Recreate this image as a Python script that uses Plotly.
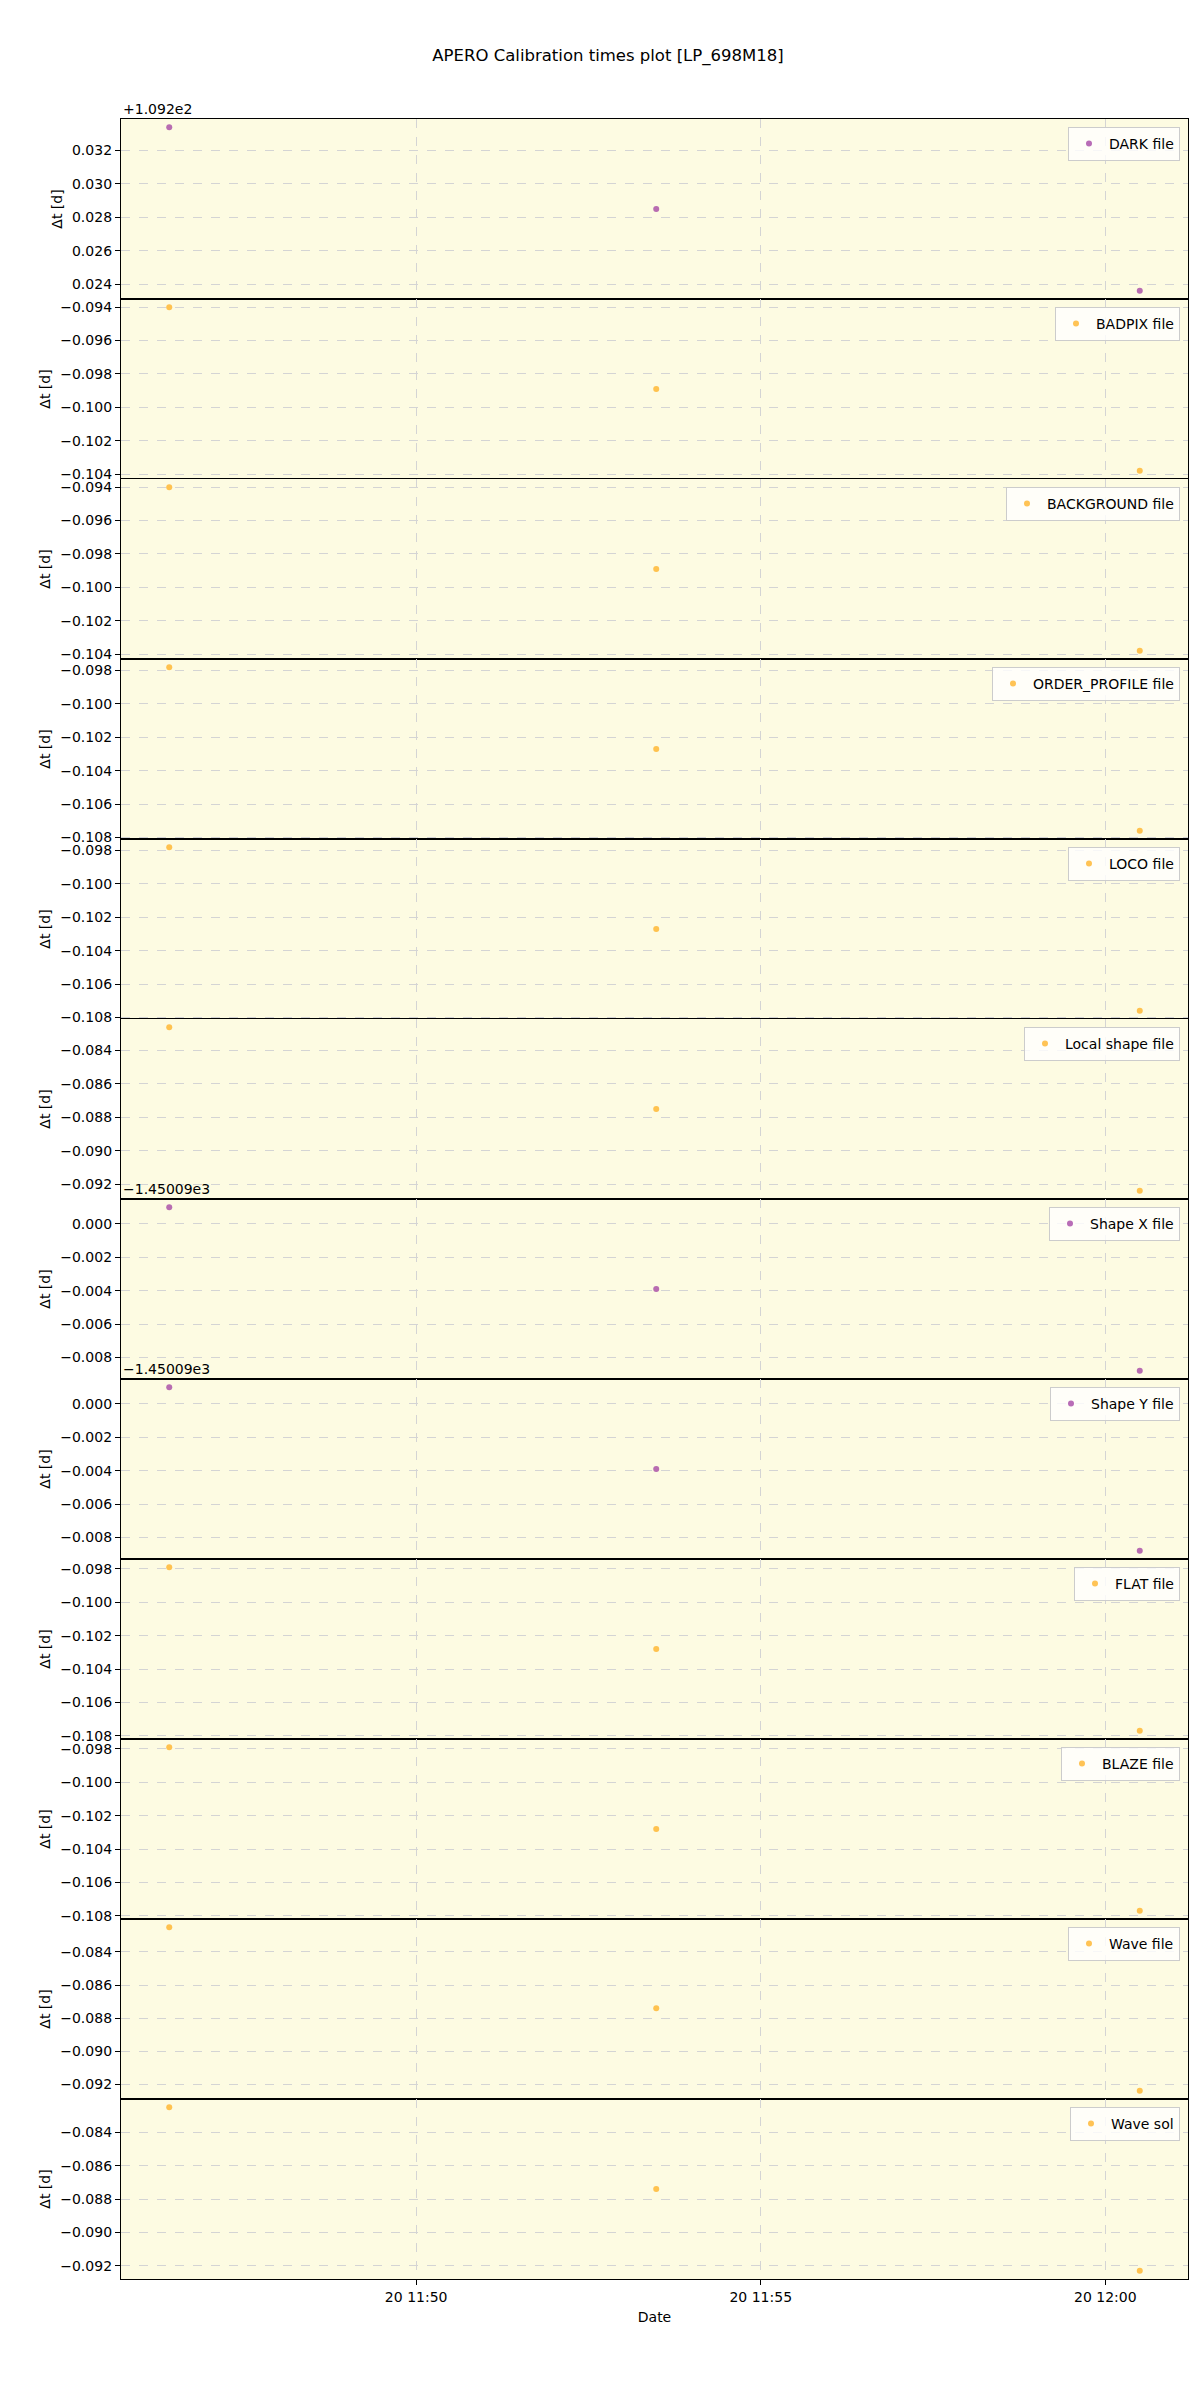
import plotly.graph_objects as go
from plotly.subplots import make_subplots

# ---- data ----
times = ["2023-04-20 11:46:25", "2023-04-20 11:53:29", "2023-04-20 12:00:30"]
x_range = ["2023-04-20 11:45:43", "2023-04-20 12:01:12"]
x_tickvals = ["2023-04-20 11:50:00", "2023-04-20 11:55:00", "2023-04-20 12:00:00"]
x_ticktext = ["20 11:50", "20 11:55", "20 12:00"]

labels = ["DARK file", "BADPIX file", "BACKGROUND file", "ORDER_PROFILE file",
          "LOCO file", "Local shape file", "Shape X file", "Shape Y file",
          "FLAT file", "BLAZE file", "Wave file", "Wave sol"]
# values shown relative to the axis offset text (matplotlib style)
offsets_text = ["+1.092e2", "", "", "", "", "", "\u22121.45009e3", "\u22121.45009e3",
                "", "", "", ""]
dark_dt = [0.0334, 0.0285, 0.0236]
badpix_dt = [-0.0940, -0.0989, -0.1038]
background_dt = [-0.0940, -0.0989, -0.1038]
order_profile_dt = [-0.0978, -0.1027, -0.1076]
loco_dt = [-0.0978, -0.1027, -0.1076]
local_shape_dt = [-0.0826, -0.0875, -0.0924]
shape_x_dt = [0.0010, -0.0039, -0.0088]
shape_y_dt = [0.0010, -0.0039, -0.0088]
flat_dt = [-0.0979, -0.1028, -0.1077]
blaze_dt = [-0.0979, -0.1028, -0.1077]
wave_file_dt = [-0.0825, -0.0874, -0.0924]
wave_sol_dt = [-0.0825, -0.0874, -0.0923]
series = [dark_dt, badpix_dt, background_dt, order_profile_dt, loco_dt,
          local_shape_dt, shape_x_dt, shape_y_dt, flat_dt, blaze_dt,
          wave_file_dt, wave_sol_dt]
kinds = ["p", "o", "o", "o", "o", "o", "p", "p", "o", "o", "o", "o"]

PURPLE = "rgba(160,60,160,0.75)"
ORANGE = "rgba(255,175,30,0.75)"
BG = "#fdfbe2"
FONT = "DejaVu Sans"

n = len(labels)
fig = make_subplots(rows=n, cols=1, shared_xaxes=True, vertical_spacing=0)

for i, (lab, ys, k) in enumerate(zip(labels, series, kinds)):
    r = i + 1
    lg = "legend" if i == 0 else f"legend{i+1}"
    fig.add_trace(go.Scatter(
        x=times, y=ys, mode="markers", name=lab,
        marker=dict(size=6, color=PURPLE if k == "p" else ORANGE),
        legend=lg, showlegend=True), row=r, col=1)
    lo, hi = min(ys), max(ys)
    pad = (hi - lo) * 0.05
    fig.update_yaxes(range=[lo - pad, hi + pad], dtick=0.002, tick0=0,
                     tickformat=".3f", row=r, col=1,
                     title=dict(text="\u0394t [d]", font=dict(size=14, family=FONT, color="black"),
                                standoff=6))
    fig.update_xaxes(range=x_range, tickvals=x_tickvals, ticktext=x_ticktext,
                     showticklabels=(r == n), ticks="outside" if r == n else "",
                     row=r, col=1)

fig.update_yaxes(showline=True, mirror=True, linecolor="black", linewidth=1.3,
                 ticks="outside", ticklen=5, tickcolor="black",
                 tickfont=dict(size=14, family=FONT, color="black"),
                 showgrid=True, gridcolor="#d4d4d4", griddash="dash", gridwidth=1,
                 zeroline=False, automargin=False)
fig.update_xaxes(showline=True, mirror=True, linecolor="black", linewidth=1.3,
                 ticklen=5, tickcolor="black",
                 tickfont=dict(size=14, family=FONT, color="black"),
                 showgrid=True, gridcolor="#d4d4d4", griddash="dash", gridwidth=1,
                 zeroline=False, automargin=False)
fig.update_xaxes(title=dict(text="Date", font=dict(size=14, family=FONT, color="black"),
                            standoff=8), row=n, col=1)

layout_legends = {}
for i in range(n):
    yax = fig.layout["yaxis" if i == 0 else f"yaxis{i+1}"]
    top = yax.domain[1]
    key = "legend" if i == 0 else f"legend{i+1}"
    layout_legends[key] = dict(
        x=0.9925, y=top - 0.0037, xanchor="right", yanchor="top",
        bgcolor="rgba(255,255,255,0.8)", bordercolor="#cccccc", borderwidth=1,
        font=dict(size=14, family=FONT, color="black"), itemwidth=30)
    if offsets_text[i]:
        fig.add_annotation(text=offsets_text[i], xref="paper", yref="paper",
                           x=0, y=top, xanchor="left", yanchor="bottom",
                           showarrow=False, yshift=0,
                           font=dict(size=14, family=FONT, color="black"))

fig.update_layout(
    width=1200, height=2400,
    margin=dict(l=113, r=20, t=111, b=129, autoexpand=False),
    paper_bgcolor="white", plot_bgcolor=BG,
    font=dict(family=FONT, size=14, color="black"),
    title=dict(text="APERO Calibration times plot [LP_698M18]", x=0.5, xanchor="center",
               y=1 - 47 / 2400, yanchor="middle",
               font=dict(size=16.5, family=FONT, color="black")),
    **layout_legends,
)

fig.write_html("out.html")
